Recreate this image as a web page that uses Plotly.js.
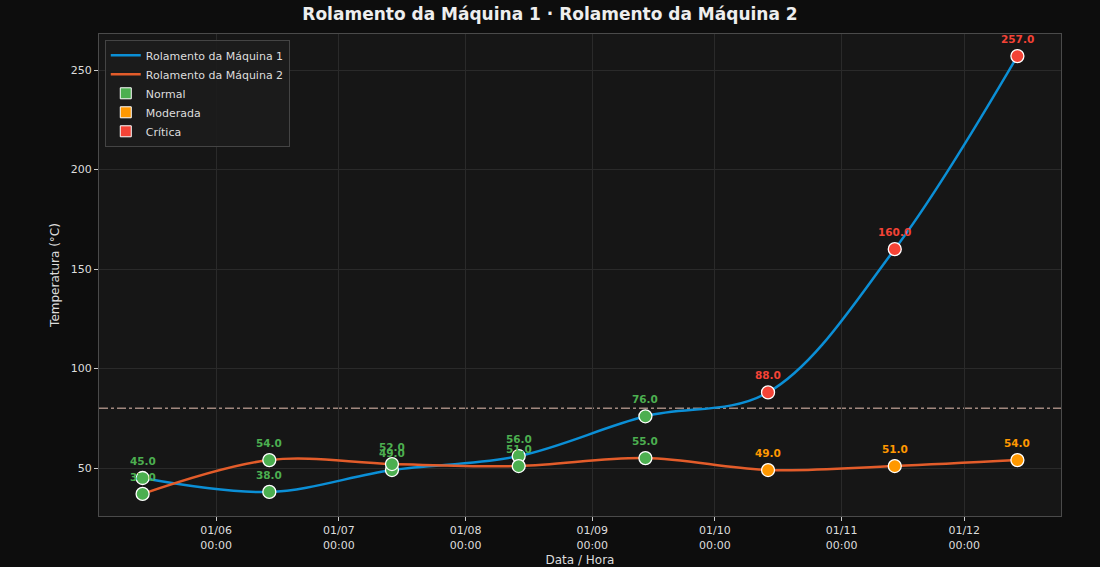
<!DOCTYPE html>
<html>
<head>
<meta charset="utf-8">
<script src="https://cdn.plot.ly/plotly-3.0.1.min.js"></script>
<style>
  html, body { margin: 0; padding: 0; background: #0d0d0d; }
  #chart { width: 1100px; height: 567px; }
</style>
</head>
<body>
<div id="chart"></div>
<script>
// leituras (uma por mês)
var datas = ['2025-05-14', '2025-06-14', '2025-07-14', '2025-08-14',
             '2025-09-14', '2025-10-14', '2025-11-14', '2025-12-14'];
var maquina1 = [45, 38, 49, 56, 76, 88, 160, 257];
var maquina2 = [37, 54, 52, 51, 55, 49, 51, 54];
var status1 = ['Normal', 'Normal', 'Normal', 'Normal', 'Normal', 'Crítica', 'Crítica', 'Crítica'];
var status2 = ['Normal', 'Normal', 'Normal', 'Normal', 'Normal', 'Moderada', 'Moderada', 'Moderada'];
var limite = 80;

var nomes = ['Rolamento da Máquina 1', 'Rolamento da Máquina 2'];
var coresLinha = ['#0b8fd6', '#e35c2a'];
var estados = ['Normal', 'Moderada', 'Crítica'];
var coresEstado = {'Normal': '#4caf50', 'Moderada': '#ff9800', 'Crítica': '#f44336'};

function linha(y, nome, cor) {
  return {
    x: datas,
    y: y,
    name: nome,
    type: 'scatter',
    mode: 'lines',
    line: {color: cor, width: 2.5, shape: 'spline', smoothing: 1},
    hoverinfo: 'skip'
  };
}

function pontos(y, status, nome) {
  return {
    x: datas,
    y: y,
    name: nome,
    type: 'scatter',
    mode: 'markers',
    showlegend: false,
    marker: {
      size: 13,
      color: status.map(function (s) { return coresEstado[s]; }),
      line: {color: '#ffffff', width: 1.3}
    },
    hovertemplate: '%{y:.1f} °C<extra>' + nome + '</extra>'
  };
}

var traces = [
  linha(maquina1, nomes[0], coresLinha[0]),
  linha(maquina2, nomes[1], coresLinha[1])
];

// entradas de legenda para os estados
estados.forEach(function (e) {
  traces.push({
    x: [null], y: [null],
    type: 'scatter',
    mode: 'markers',
    name: e,
    marker: {symbol: 'square', size: 11, color: coresEstado[e], line: {color: '#ffffff', width: 1}},
    hoverinfo: 'skip'
  });
});

traces.push(pontos(maquina1, status1, nomes[0]));
traces.push(pontos(maquina2, status2, nomes[1]));

// rótulos de valores
var rotulos = [];
function addRotulos(y, status) {
  for (var i = 0; i < y.length; i++) {
    rotulos.push({
      x: datas[i], y: y[i],
      xref: 'x', yref: 'y',
      text: '<b>' + y[i].toFixed(1) + '</b>',
      showarrow: false,
      yshift: 17,
      font: {family: 'DejaVu Sans', size: 10.5, color: coresEstado[status[i]]}
    });
  }
}
addRotulos(maquina1, status1);
addRotulos(maquina2, status2);

var layout = {
  width: 1100,
  height: 567,
  paper_bgcolor: '#0d0d0d',
  plot_bgcolor: '#161616',
  font: {family: 'DejaVu Sans', color: '#dddddd', size: 11},
  margin: {l: 99, r: 39, t: 34, b: 51},
  title: {
    text: '<b>Rolamento da Máquina 1 · Rolamento da Máquina 2</b>',
    font: {family: 'DejaVu Sans', size: 17, color: '#eeeeee'},
    x: 0.5, xanchor: 'center', y: 0.975, yanchor: 'middle'
  },
  xaxis: {
    type: 'date',
    range: ['2025-05-03 08:00', '2025-12-24 16:00'],
    tick0: '2025-06-01',
    dtick: 'M1',
    tickformat: '%d/%m<br>%H:%M',
    ticks: 'outside', ticklen: 4, tickcolor: '#cccccc',
    tickfont: {size: 11, color: '#dddddd'},
    gridcolor: '#2a2a2a', gridwidth: 1,
    showline: true, linecolor: '#4a4a4a', mirror: true,
    zeroline: false,
    title: {text: 'Data / Hora', font: {size: 12, color: '#dddddd'}, standoff: 5}
  },
  yaxis: {
    range: [25.9, 268.1],
    tickvals: [50, 100, 150, 200, 250],
    ticks: 'outside', ticklen: 4, tickcolor: '#cccccc',
    tickfont: {size: 11, color: '#dddddd'},
    gridcolor: '#2a2a2a', gridwidth: 1,
    showline: true, linecolor: '#4a4a4a', mirror: true,
    zeroline: false,
    title: {text: 'Temperatura (°C)', font: {size: 12, color: '#dddddd'}, standoff: 8}
  },
  shapes: [{
    type: 'line', xref: 'paper', x0: 0, x1: 1, yref: 'y', y0: limite, y1: limite,
    line: {color: '#a1887f', width: 1.5, dash: 'dashdot'},
    layer: 'below'
  }],
  annotations: rotulos,
  showlegend: true,
  legend: {
    x: 0.006, y: 0.988, xanchor: 'left', yanchor: 'top',
    bgcolor: 'rgba(28,28,28,0.9)',
    bordercolor: '#444444', borderwidth: 1,
    font: {size: 11, color: '#dddddd'},
    tracegroupgap: 0,
    itemwidth: 30
  }
};

Plotly.newPlot('chart', traces, layout, {displayModeBar: false});
</script>
</body>
</html>
